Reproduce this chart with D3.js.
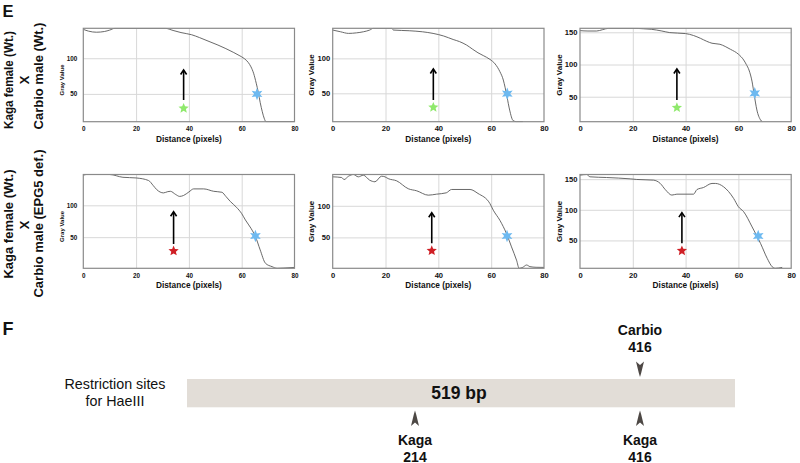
<!DOCTYPE html>
<html><head><meta charset="utf-8">
<script src="https://cdn.jsdelivr.net/npm/d3@7"></script>
<style>
body{margin:0;background:#fff}
svg{display:block;font-family:"Liberation Sans",Arial,Helvetica,sans-serif}
</style>
</head><body>
<svg id="chart" width="800" height="463"></svg>
<script>
// ---------- DATA ----------
const xTicks = [0, 20, 40, 60, 80];
const xDomain = [0, 80];

// gray-value profiles [distance, gray value]
const profileWtA = [[0,140.5],[2,138],[5,136.5],[8,137.5],[10,139.5],[12,142],[20,142],[31,142],[34,139],[37,136],[41,133],[44,129],[48,123],[51,118.5],[54,113.5],[57,108],[59,104],[61,99.5],[62.5,94],[63.5,88],[64.5,79],[65.5,65],[66.3,52],[67,38],[67.8,25],[68.5,16],[69.2,11],[80,11]];
const profileWtB = [[0,140.5],[3,138],[6,135.7],[9,136.5],[11.6,138],[14,140.5],[15.4,143],[22.3,143],[23,140.5],[29,139.5],[34,138],[38,135.7],[42,132],[45.6,127],[48,124],[50.7,119],[53,113],[55,108],[57,104],[59.5,98.6],[61.5,92],[63.3,81],[64.6,69],[65.3,58],[66,45],[67,26],[68.3,11],[69.6,9.4],[72,9.4]];
const profileWtC = [[0,152.6],[3,152],[6.3,152],[8.5,154],[10.8,156.2],[20,156.2],[24,155.5],[27,154.7],[31,152],[34,149.5],[40,148],[43,145],[45.6,140.7],[48,136],[50,133],[53,131.4],[55,128],[57,123.6],[60,116],[62,107],[63,100],[64,91.5],[65.2,73],[66,52.7],[67,29.4],[68.4,13.9],[69,11.2]];
const profileDefA = [[0,146.8],[1,148.4],[10,148.4],[15,144],[20,143],[24.7,139],[26.5,131],[27.8,124.7],[30.4,119.5],[32,121.5],[33,122],[35,117],[36.5,114],[38,115.5],[40,121],[41.8,125.8],[45.6,125.8],[49.4,122],[52.5,120.5],[54,114],[55.7,106],[58,97],[60,87],[61.4,77],[63.5,64],[65.2,51],[67,30],[69,9],[71.5,3.7],[73.4,1.1],[76,1.5],[80,2.5]];
const profileDefB = [[0,145.8],[3.4,144.7],[4.3,141.5],[6,146.8],[7.8,149.5],[9.7,145.8],[11.6,148.4],[14,140.5],[16,138],[18.5,146.8],[19.8,145.8],[21,143],[24.2,139.5],[28.6,127],[31.8,123.7],[36.2,116.8],[39.3,118.4],[43,120.5],[45,125.8],[52,125.8],[55,119.5],[59.5,103.7],[60.8,93],[63.3,77],[65.8,56],[67.7,35],[69.6,14],[70.6,1.1],[72,2.7],[73.4,6.3],[74.7,3.7],[77,2.7],[80,2.5]];
const profileDefC = [[0,156.5],[2.5,157.6],[3.8,153.8],[10,152.7],[19,150.5],[21.5,149.5],[27.8,148.4],[30.4,143],[32.3,133],[34.8,124],[36.7,125.5],[43,125.5],[44.3,133],[46.8,136.4],[50,143],[51.3,143],[54.4,137.5],[58.2,118.5],[60,105],[62,96.8],[65.2,72],[68.4,45],[70.9,20.8],[72.8,7],[74,4.5],[76.6,6]];

const yTickSets = [[50,100],[50,100],[50,100,150],[50,100],[50,100],[50,100,150]];

// marker star (green = wt, red = def) and blue star, arrows
const markX  = [38.0, 38.1, 36.7, 34.2, 37.5, 38.6];
const markY  = [29.8, 30.0, 32.9, 28.3, 28.9, 33.1];
const blueX  = [65.8, 66.1, 66.2, 65.2, 66.0, 67.5];
const blueY  = [49.9, 49.5, 55.3, 51.8, 52.2, 57.2];
const arrowFrom = [41.4, 40.4, 44.9, 39.3, 40.7, 45.2];
const arrowTo   = [83.5, 84.8, 93.0, 90.0, 89.0, 95.4];

const rowLabelsTop = ["Kaga female (Wt.)", "X", "Carbio male (Wt.)"];
const rowLabelsBottom = ["Kaga female (Wt.)", "X", "Carbio male (EPG5 def.)"];

// section F
const fragmentLength = 519;
const fragmentLabel = "519 bp";
const siteNames = ["Carbio", "Kaga", "Kaga"];
const siteBp = [416, 214, 416];
const siteSide = ["top", "bottom", "bottom"];
const fTitle = ["Restriction sites", "for HaeIII"];

// ---------- LAYOUT ----------
const svg = d3.select("#chart");
const FONT = '"Liberation Sans",Arial,Helvetica,sans-serif';
const profiles = [profileWtA, profileWtB, profileWtC, profileDefA, profileDefB, profileDefC];
const cols = [[83.3, 294.5], [332.7, 544], [580, 791.2]];
const rows = [[28.3, 121.7], [174.5, 268.3]];
const markColors = ["#8fe96c", "#8fe96c", "#8fe96c", "#cf1f25", "#cf1f25", "#cf1f25"];
const blueColor = "#6db9f0";

function starPath(n, rOut, rIn) {
  const pts = [];
  for (let i = 0; i < 2 * n; i++) {
    const a = -Math.PI / 2 + i * Math.PI / n;
    const r = i % 2 === 0 ? rOut : rIn;
    pts.push([Math.cos(a) * r, Math.sin(a) * r]);
  }
  return d3.line()(pts) + "Z";
}

profiles.forEach((data, i) => {
  const col = i % 3, row = Math.floor(i / 3);
  const small = col === 0;
  const [x0, x1] = cols[col], [y0, y1] = rows[row];
  const x = d3.scaleLinear().domain(xDomain).range([x0, x1]);
  const y = d3.scaleLinear().domain(d3.extent(data, d => d[1])).range([y1, y0]);
  const g = svg.append("g");
  const clipId = "clip" + i;
  svg.append("clipPath").attr("id", clipId).append("rect")
    .attr("x", x0).attr("y", y0 - 0.5).attr("width", x1 - x0).attr("height", y1 - y0 + 1);

  // grid
  g.append("g").attr("transform", `translate(0,${y1})`)
    .call(d3.axisBottom(x).tickValues(xTicks.slice(1, -1)).tickSize(-(y1 - y0)).tickFormat(""))
    .call(a => a.select(".domain").remove())
    .call(a => a.selectAll("line").attr("stroke", "#d8d8d8").attr("stroke-width", 1));
  g.append("g").attr("transform", `translate(${x0},0)`)
    .call(d3.axisLeft(y).tickValues(yTickSets[i]).tickSize(-(x1 - x0)).tickFormat(""))
    .call(a => a.select(".domain").remove())
    .call(a => a.selectAll("line").attr("stroke", "#d8d8d8").attr("stroke-width", 1));

  // profile line
  g.append("path").datum(data)
    .attr("clip-path", `url(#${clipId})`)
    .attr("fill", "none").attr("stroke", "#585858").attr("stroke-width", 0.9)
    .attr("d", d3.line().x(d => x(d[0])).y(d => y(d[1])).curve(d3.curveMonotoneX));

  // frame
  g.append("rect").attr("x", x0).attr("y", y0).attr("width", x1 - x0).attr("height", y1 - y0)
    .attr("fill", "none").attr("stroke", "#8a8a8a").attr("stroke-width", 1.2);

  // tick labels
  const tfs = small ? 6.3 : 7.6;
  g.append("g").attr("transform", `translate(0,${y1})`)
    .call(d3.axisBottom(x).tickValues(xTicks).tickSize(0).tickPadding(small ? 5 : 4))
    .call(a => a.select(".domain").remove())
    .call(a => a.selectAll("text").attr("font-family", FONT).attr("font-weight", "bold")
      .attr("font-size", tfs).attr("fill", "#111"));
  g.append("g").attr("transform", `translate(${x0},0)`)
    .call(d3.axisLeft(y).tickValues(yTickSets[i]).tickSize(0).tickPadding(small ? 6 : 2.5))
    .call(a => a.select(".domain").remove())
    .call(a => a.selectAll("text").attr("font-family", FONT).attr("font-weight", "bold")
      .attr("font-size", tfs).attr("fill", "#111"));

  // axis titles
  g.append("text").attr("x", (x0 + x1) / 2).attr("y", y1 + (row === 0 ? 20 : 19.5))
    .attr("text-anchor", "middle").attr("font-weight", "bold").attr("font-size", 8.3)
    .attr("fill", "#111").text("Distance (pixels)");
  const gvfs = small ? 6 : 8;
  const gvx = small ? x0 - 19.5 : x0 - 18.5;
  const gvy = (y0 + y1) / 2 + (small ? 5 : 0);
  g.append("text").attr("transform", `translate(${gvx},${gvy}) rotate(-90)`)
    .attr("text-anchor", "middle").attr("font-weight", "bold").attr("font-size", gvfs)
    .attr("fill", "#111").text("Gray Value");

  // arrow
  const ax = x(markX[i]), ayB = y(arrowFrom[i]), ayT = y(arrowTo[i]);
  g.append("line").attr("x1", ax).attr("x2", ax).attr("y1", ayB).attr("y2", ayT + 0.5)
    .attr("stroke", "#000").attr("stroke-width", 1.6);
  g.append("path").attr("d", d3.line()([[ax - 3, ayT + 4.5], [ax, ayT], [ax + 3, ayT + 4.5]]))
    .attr("fill", "none").attr("stroke", "#000").attr("stroke-width", 1.6);

  // stars
  g.append("path").attr("transform", `translate(${x(markX[i])},${y(markY[i])})`)
    .attr("d", starPath(5, 5.4, 2.4)).attr("fill", markColors[i]);
  g.append("path").attr("transform", `translate(${x(blueX[i])},${y(blueY[i])})`)
    .attr("d", starPath(6, 6.2, 2.9)).attr("fill", blueColor);
});

// row labels
function rowLabels(labels, ys, xs, lens) {
  labels.forEach((t, k) => {
    const txt = svg.append("text").attr("transform", `translate(${xs[k]},${ys[k]}) rotate(-90)`)
      .attr("text-anchor", "middle").attr("font-weight", "bold").attr("font-size", 13)
      .attr("fill", "#111").text(t);
    if (lens[k]) txt.attr("textLength", lens[k]).attr("lengthAdjust", "spacingAndGlyphs");
  });
}
rowLabels(rowLabelsTop, [80, 80, 76], [12.6, 29, 43], [98, 0, 0]);
rowLabels(rowLabelsBottom, [224, 225, 223.5], [12.6, 29, 43], [0, 0, 0]);

// panel letters
svg.append("text").attr("x", 2.5).attr("y", 17).attr("font-weight", "bold").attr("font-size", 16.5).attr("fill", "#111").text("E");
svg.append("text").attr("x", 2.5).attr("y", 335).attr("font-weight", "bold").attr("font-size", 18).attr("fill", "#111").text("F");

// ---------- SECTION F ----------
const bx = d3.scaleLinear().domain([0, 214, 416, fragmentLength]).range([187, 415, 640, 735]);
const barY0 = 379, barY1 = 407.3;
svg.append("rect").attr("x", bx(0)).attr("y", barY0).attr("width", bx(fragmentLength) - bx(0))
  .attr("height", barY1 - barY0).attr("fill", "#e2ddd7");
svg.append("text").attr("x", (bx(0) + bx(fragmentLength)) / 2 - 2).attr("y", 398.5)
  .attr("text-anchor", "middle").attr("font-weight", "bold").attr("font-size", 17.5)
  .attr("fill", "#111").text(fragmentLabel);

fTitle.forEach((t, k) => {
  svg.append("text").attr("x", 115).attr("y", 389 + k * 17).attr("text-anchor", "middle")
    .attr("font-size", 14.3).attr("fill", "#111").text(t);
});

const arrowShape = d3.line()([[0, 0], [-1.2, 4], [-4, 15.5], [0, 12], [4, 15.5], [1.2, 4]]) + "Z";
siteNames.forEach((name, k) => {
  const sx = bx(siteBp[k]);
  if (siteSide[k] === "top") {
    svg.append("path").attr("transform", `translate(${sx},377) scale(1,-1)`)
      .attr("d", arrowShape).attr("fill", "#4d4845");
    svg.append("text").attr("x", sx).attr("y", 335).attr("text-anchor", "middle")
      .attr("font-weight", "bold").attr("font-size", 14).attr("fill", "#111").text(name);
    svg.append("text").attr("x", sx).attr("y", 351.7).attr("text-anchor", "middle")
      .attr("font-weight", "bold").attr("font-size", 14).attr("fill", "#111").text(siteBp[k]);
  } else {
    svg.append("path").attr("transform", `translate(${sx},410.5)`)
      .attr("d", arrowShape).attr("fill", "#4d4845");
    svg.append("text").attr("x", sx).attr("y", 445).attr("text-anchor", "middle")
      .attr("font-weight", "bold").attr("font-size", 14).attr("fill", "#111").text(name);
    svg.append("text").attr("x", sx).attr("y", 461.5).attr("text-anchor", "middle")
      .attr("font-weight", "bold").attr("font-size", 14).attr("fill", "#111").text(siteBp[k]);
  }
});
</script>
</body></html>
